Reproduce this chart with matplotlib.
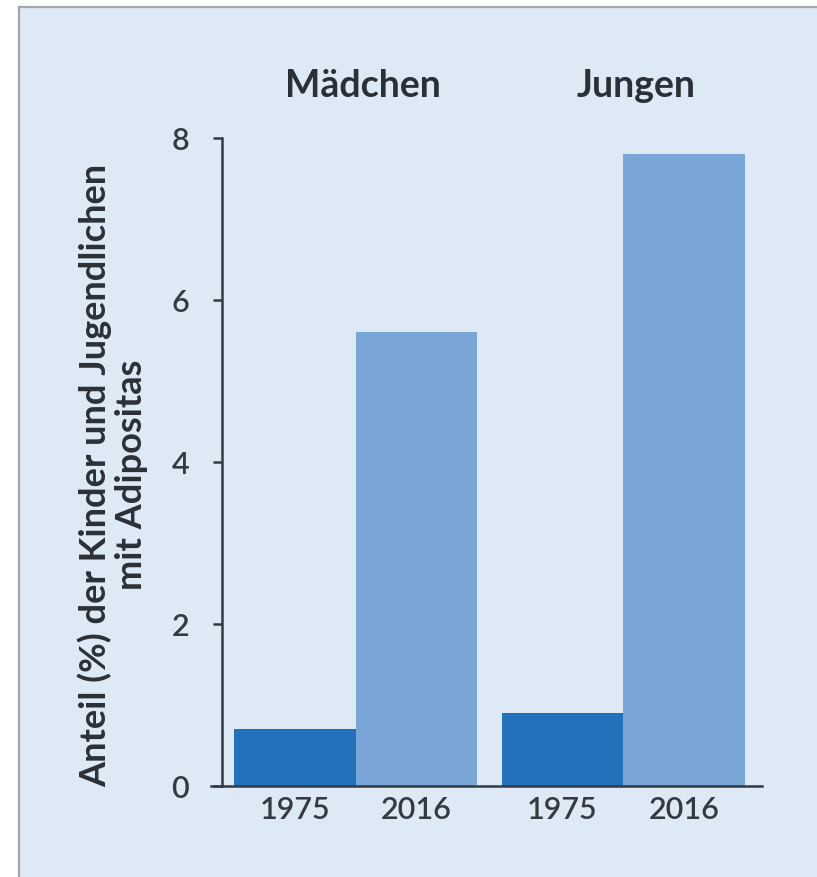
import matplotlib.pyplot as plt
from matplotlib.patches import Rectangle
from matplotlib.lines import Line2D

# Data
groups = ["Mädchen", "Jungen"]
years = ["1975", "2016"]
values_1975 = [0.7, 0.9]
values_2016 = [5.6, 7.8]

group_pos = [0.0, 2.2]  # left bar position of each group
width = 1.0

dark = "#2271ba"
light = "#7aa5d7"
panel = "#dee9f6"
ink = "#353a42"

plt.rcParams["font.family"] = ["Lato", "DejaVu Sans"]

W, H = 817, 877
fig = plt.figure(figsize=(W / 100, H / 100), dpi=100)
fig.patch.set_facecolor("white")

# framed light-blue panel behind everything
fig.add_artist(Rectangle((19 / W, 0), 1, 1 - 7 / H, transform=fig.transFigure,
                         facecolor=panel, edgecolor="none", zorder=-10))
fig.add_artist(Line2D([19 / W, 1], [1 - 7 / H, 1 - 7 / H], transform=fig.transFigure,
                      color="#a3a6aa", lw=1.6, zorder=-9))
fig.add_artist(Line2D([19 / W, 19 / W], [0, 1 - 7 / H], transform=fig.transFigure,
                      color="#a3a6aa", lw=1.6, zorder=-9))

ax = fig.add_axes([211 / W, 1 - 786 / H, 551 / W, 648 / H])
ax.set_facecolor("none")

x75 = list(group_pos)
x16 = [g + width for g in group_pos]
ax.bar(x75, values_1975, width, color=dark, zorder=2)
ax.bar(x16, values_2016, width, color=light, zorder=2)

ax.set_xlim(-0.691, 3.844)
ax.set_ylim(0, 8)

for s in ["top", "right"]:
    ax.spines[s].set_visible(False)
ax.spines["left"].set_position(("axes", 11 / 551))
for s in ["left", "bottom"]:
    ax.spines[s].set_color(ink)
    ax.spines[s].set_linewidth(1.8)
    ax.spines[s].set_zorder(3)

ax.set_yticks([0, 2, 4, 6, 8])
ax.tick_params(axis="y", direction="out", length=6.5, width=1.8, color=ink,
               labelsize=22, labelcolor=ink, pad=17)
ax.set_xticks(x75 + x16)
ax.set_xticklabels([years[0]] * 2 + [years[1]] * 2)
ax.tick_params(axis="x", length=0, labelsize=22, labelcolor=ink, pad=7)
for lbl in ax.get_xticklabels() + ax.get_yticklabels():
    lbl.set_fontweight("semibold")

# group headers
for g, name, dx in zip(group_pos, groups, [0.06, 0.107]):
    ax.text(g + width / 2 + dx, 8.506, name, ha="center", va="baseline",
            fontsize=27, fontweight="bold", color="#2b2f36")

fig.text(113 / W, 1 - 475 / H, "Anteil (%) der Kinder und Jugendlichen\nmit Adipositas",
         rotation=90, ha="center", va="center", fontsize=26, fontweight="bold",
         color="#2b2f36", linespacing=1.12, multialignment="center")

fig.savefig("out.png", dpi=100)
